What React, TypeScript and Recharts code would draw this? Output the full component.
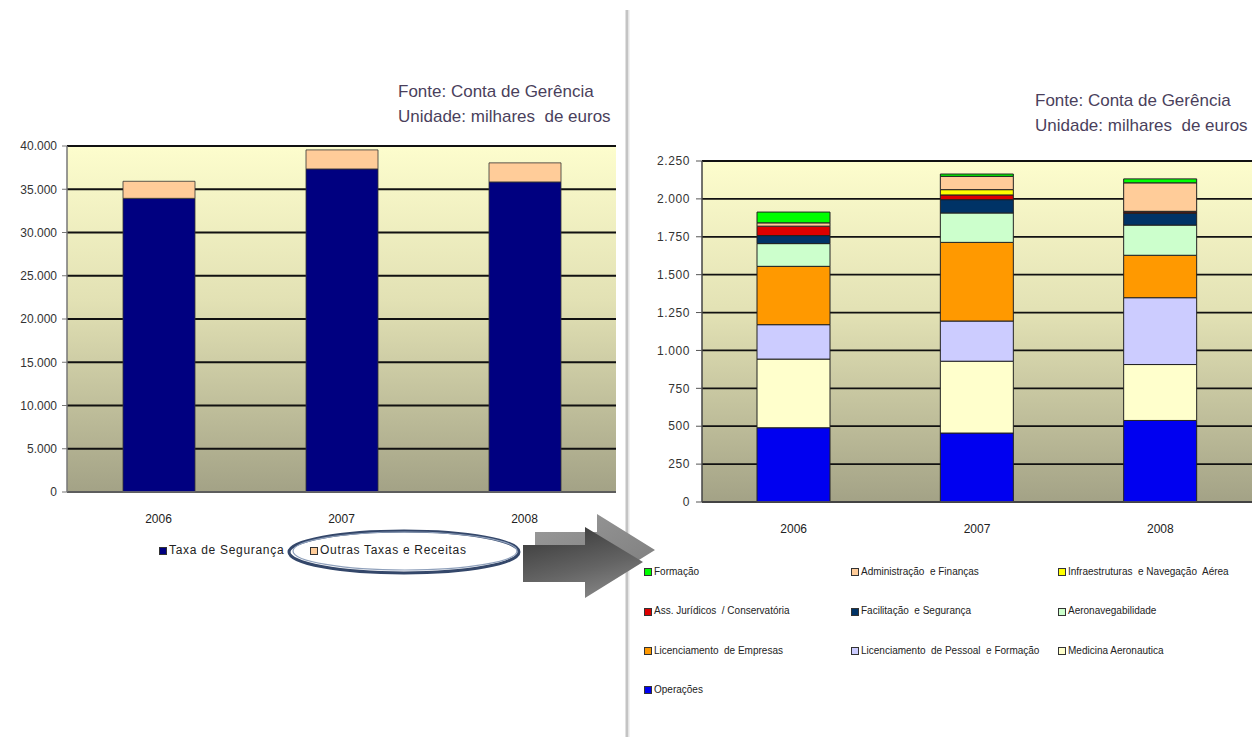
import React from 'react';
import { BarChart, Bar, XAxis, YAxis, CartesianGrid } from 'recharts';

const FONT = '"Liberation Sans", Arial, sans-serif';

const years = ['2006', '2007', '2008'];

// Receitas (milhares de euros)
const taxaSeguranca = [33950, 37350, 35850];
const outrasTaxas = [1970, 2200, 2200];
const revenueTicks = [0, 5000, 10000, 15000, 20000, 25000, 30000, 35000, 40000];

// Outras Taxas e Receitas por área (milhares de euros), stacked bottom to top
const operacoes = [490, 455, 538];
const medicinaAeronautica = [453, 474, 369];
const licPessoalFormacao = [227, 265, 441];
const licEmpresas = [385, 519, 280];
const aeronavegabilidade = [150, 194, 199];
const facilitacaoSeguranca = [53, 88, 77];
const assJuridicos = [62, 31, 9];
const infraestruturas = [0, 35, 5];
const administracao = [22, 88, 188];
const formacao = [71, 15, 26];
const areaTicks = [0, 250, 500, 750, 1000, 1250, 1500, 1750, 2000, 2250];

type Series = { key: string; name: string; color: string; values: number[] };

const revenueSeries: Series[] = [
  { key: 'taxa', name: 'Taxa de Segurança', color: '#000080', values: taxaSeguranca },
  { key: 'outras', name: 'Outras Taxas e Receitas', color: '#ffcc99', values: outrasTaxas },
];

const areaSeries: Series[] = [
  { key: 'operacoes', name: 'Operações', color: '#0000f0', values: operacoes },
  { key: 'medicina', name: 'Medicina Aeronautica', color: '#ffffcc', values: medicinaAeronautica },
  { key: 'licPessoal', name: 'Licenciamento  de Pessoal  e Formação', color: '#ccccff', values: licPessoalFormacao },
  { key: 'licEmpresas', name: 'Licenciamento  de Empresas', color: '#ff9900', values: licEmpresas },
  { key: 'aeronav', name: 'Aeronavegabilidade', color: '#ccffcc', values: aeronavegabilidade },
  { key: 'facilitacao', name: 'Facilitação  e Segurança', color: '#003366', values: facilitacaoSeguranca },
  { key: 'assJur', name: 'Ass. Jurídicos  / Conservatória', color: '#dd0000', values: assJuridicos },
  { key: 'infra', name: 'Infraestruturas  e Navegação  Aérea', color: '#ffff00', values: infraestruturas },
  { key: 'admin', name: 'Administração  e Finanças', color: '#ffcc99', values: administracao },
  { key: 'formacao', name: 'Formação', color: '#00ff00', values: formacao },
];

const buildRows = (series: Series[]) =>
  years.map((year, i) => {
    const row: Record<string, string | number> = { year };
    series.forEach((s) => {
      row[s.key] = s.values[i];
    });
    return row;
  });

const revenueData = buildRows(revenueSeries);
const areaData = buildRows(areaSeries);

const thousands = (v: number) => String(v).replace(/\B(?=(\d{3})+(?!\d))/g, '.');

const gradientStops = (
  <>
    <stop offset="0%" stopColor="#fdfdcd" />
    <stop offset="45%" stopColor="#e2e1b4" />
    <stop offset="100%" stopColor="#a3a286" />
  </>
);

const tickStyle = { fill: '#333', fontSize: 12, fontFamily: FONT };
const noteStyle: React.CSSProperties = {
  position: 'absolute',
  fontFamily: FONT,
  fontSize: 17,
  color: '#4a3f5c',
  lineHeight: '25px',
  whiteSpace: 'pre',
};

const Marker = ({ color }: { color: string }) => (
  <span
    style={{
      display: 'inline-block',
      width: 6,
      height: 6,
      background: color,
      border: '1px solid #333',
      marginRight: 2,
      verticalAlign: 'middle',
    }}
  />
);

export default function App() {
  const legendOrder = [...areaSeries].reverse();
  return (
    <div
      style={{
        position: 'absolute',
        left: 0,
        top: 0,
        width: 1252,
        height: 737,
        background: '#fff',
        overflow: 'hidden',
        fontFamily: FONT,
      }}
    >
      {/* Receitas */}
      <div style={{ ...noteStyle, left: 398, top: 79 }}>
        {'Fonte: Conta de Gerência\nUnidade: milhares  de euros'}
      </div>
      <div style={{ position: 'absolute', left: 0, top: 0 }}>
        <BarChart
          width={628}
          height={737}
          data={revenueData}
          margin={{ top: 146, right: 12, bottom: 215, left: 0 }}
          barSize={72}
        >
          <defs>
            <linearGradient id="plotBgLeft" x1="0" y1="0" x2="0" y2="1">
              {gradientStops}
            </linearGradient>
          </defs>
          <CartesianGrid vertical={false} stroke="#111" strokeWidth={1.8} fill="url(#plotBgLeft)" fillOpacity={1} />
          <XAxis
            dataKey="year"
            tickLine={false}
            tickSize={6}
            tickMargin={16}
            axisLine={{ stroke: '#777', strokeWidth: 1.5 }}
            tick={{ ...tickStyle, fill: '#222' }}
          />
          <XAxis xAxisId="top" orientation="top" dataKey="year" height={0} tick={false} tickLine={false} axisLine={{ stroke: '#8c8c8c', strokeWidth: 2 }} />
          <YAxis
            width={67}
            domain={[0, 40000]}
            ticks={revenueTicks}
            tickFormatter={thousands}
            tickSize={5}
            tickMargin={5}
            interval={0}
            axisLine={{ stroke: '#777', strokeWidth: 1.5 }}
            tickLine={{ stroke: '#777' }}
            tick={tickStyle}
          />
          <YAxis yAxisId="right" orientation="right" width={0} tick={false} tickLine={false} axisLine={{ stroke: '#8c8c8c', strokeWidth: 2 }} />
          {revenueSeries.map((s) => (
            <Bar
              key={s.key}
              dataKey={s.key}
              name={s.name}
              stackId="receitas"
              fill={s.color}
              stroke="#333"
              strokeWidth={0.8}
              isAnimationActive={false}
            />
          ))}
        </BarChart>
      </div>
      <div style={{ position: 'absolute', left: 159, top: 543, fontSize: 12, color: '#222', letterSpacing: 0.7, whiteSpace: 'pre' }}>
        {revenueSeries.map((s, i) => (
          <span key={s.key} style={{ position: 'absolute', left: i === 0 ? 0 : 151, top: 0 }}>
            <Marker color={s.color} />
            {s.name}
          </span>
        ))}
      </div>

      {/* Receitas por área */}
      <div style={{ ...noteStyle, left: 1035, top: 88 }}>
        {'Fonte: Conta de Gerência\nUnidade: milhares  de euros'}
      </div>
      <div style={{ position: 'absolute', left: 630, top: 0 }}>
        <BarChart
          width={622}
          height={737}
          data={areaData}
          margin={{ top: 161, right: 0, bottom: 205, left: 0 }}
          barSize={73}
        >
          <defs>
            <linearGradient id="plotBgRight" x1="0" y1="0" x2="0" y2="1">
              {gradientStops}
            </linearGradient>
          </defs>
          <CartesianGrid vertical={false} stroke="#111" strokeWidth={1.8} fill="url(#plotBgRight)" fillOpacity={1} />
          <XAxis
            dataKey="year"
            tickLine={false}
            tickSize={6}
            tickMargin={16}
            axisLine={{ stroke: '#555', strokeWidth: 1.5 }}
            tick={{ ...tickStyle, fill: '#222' }}
          />
          <XAxis xAxisId="top" orientation="top" dataKey="year" height={0} tick={false} tickLine={false} axisLine={{ stroke: '#999', strokeWidth: 2 }} />
          <YAxis
            width={72}
            domain={[0, 2250]}
            ticks={areaTicks}
            tickFormatter={thousands}
            tickSize={6}
            tickMargin={6}
            interval={0}
            axisLine={{ stroke: '#444', strokeWidth: 1.5 }}
            tickLine={{ stroke: '#555' }}
            tick={{ ...tickStyle, letterSpacing: 0.6 }}
          />
          {areaSeries.map((s) => (
            <Bar
              key={s.key}
              dataKey={s.key}
              name={s.name}
              stackId="areas"
              fill={s.color}
              stroke="#222"
              strokeWidth={1}
              isAnimationActive={false}
            />
          ))}
        </BarChart>
      </div>
      <div style={{ position: 'absolute', left: 644, top: 565, fontSize: 10, color: '#222', whiteSpace: 'pre' }}>
        {legendOrder.map((s, i) => (
          <span
            key={s.key}
            style={{ position: 'absolute', left: (i % 3) * 207, top: Math.floor(i / 3) * 39.3, lineHeight: '14px' }}
          >
            <Marker color={s.color} />
            {s.name}
          </span>
        ))}
      </div>

      {/* divider, highlight ring and arrow */}
      <svg width={1252} height={737} style={{ position: 'absolute', left: 0, top: 0, pointerEvents: 'none' }}>
        <defs>
          <linearGradient id="arrowFront" x1="0.4" y1="0" x2="0.8" y2="1">
            <stop offset="0%" stopColor="#3e3e3e" />
            <stop offset="55%" stopColor="#646464" />
            <stop offset="100%" stopColor="#8a8a8a" />
          </linearGradient>
          <linearGradient id="arrowBack" x1="0" y1="0" x2="1" y2="1">
            <stop offset="0%" stopColor="#9a9a9a" />
            <stop offset="100%" stopColor="#7c7c7c" />
          </linearGradient>
        </defs>
        <line x1={627} y1={10} x2={627} y2={737} stroke="#c4c4c4" strokeWidth={3} />
        <line x1={629} y1={10} x2={629} y2={737} stroke="#e6e6e6" strokeWidth={1} />
        <polygon points="535,532 597,532 597,514 655,550 597,586 597,568 535,568" fill="url(#arrowBack)" />
        <polygon points="523,545 585,545 585,527 643,562 585,598 585,582 523,582" fill="url(#arrowFront)" />
        <ellipse cx={404} cy={552} rx={115} ry={21} fill="none" stroke="#34476a" strokeWidth={3} />
        <ellipse cx={405} cy={551} rx={112} ry={19} fill="none" stroke="#8fa0bb" strokeWidth={1.2} />
      </svg>
    </div>
  );
}
